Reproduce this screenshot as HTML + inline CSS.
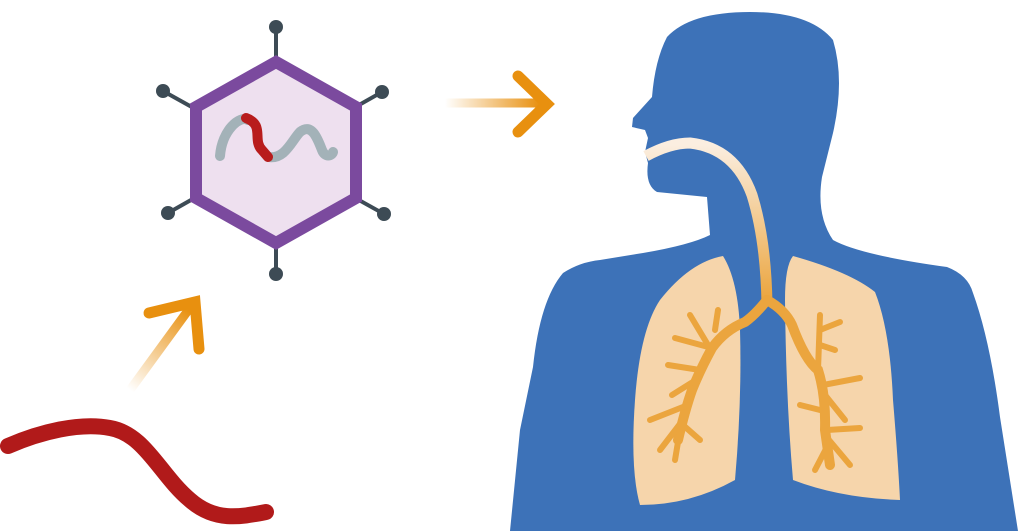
<!DOCTYPE html>
<html><head><meta charset="utf-8"><style>html,body{margin:0;padding:0;background:#fff}svg{display:block}</style></head>
<body>
<svg width="1020" height="531" viewBox="0 0 1020 531" xmlns="http://www.w3.org/2000/svg">
<defs>
<linearGradient id="ga" x1="445" y1="0" x2="540" y2="0" gradientUnits="userSpaceOnUse">
<stop offset="0" stop-color="#e8900f" stop-opacity="0"/><stop offset="1" stop-color="#e8900f"/></linearGradient>
<linearGradient id="gb" x1="130" y1="390" x2="190" y2="310" gradientUnits="userSpaceOnUse">
<stop offset="0" stop-color="#e8900f" stop-opacity="0"/><stop offset="1" stop-color="#e8900f"/></linearGradient>
<linearGradient id="gt" x1="0" y1="145" x2="0" y2="300" gradientUnits="userSpaceOnUse">
<stop offset="0" stop-color="#fbeee0"/><stop offset="1" stop-color="#eba53e"/></linearGradient>
</defs>
<g stroke="#3d4b55" stroke-width="4">
<line x1="276" y1="27" x2="276" y2="243"/><line x1="163" y1="91" x2="384" y2="214"/><line x1="382" y1="92" x2="168" y2="213"/><line x1="276" y1="243" x2="276" y2="274"/>
</g>
<g fill="#3d4b55"><circle cx="276" cy="27" r="7"/><circle cx="163" cy="91" r="7"/><circle cx="382" cy="92" r="7"/><circle cx="168" cy="213" r="7"/><circle cx="384" cy="214" r="7"/><circle cx="276" cy="274" r="7"/></g>
<polygon points="276,62 356,107 356,198 276,243 196,198 196,107" fill="#eee0ef" stroke="#7b4a9e" stroke-width="12"/>
<path d="M220,156 C222,130 240,115 248,120 M268,157 C285,160 292,140 300,132 C312,122 318,140 322,150 C325,158 332,156 333,152" fill="none" stroke="#a3b2b8" stroke-width="10" stroke-linecap="round"/>
<path d="M246,118 C265,125 252,140 262,150 L268,157" fill="none" stroke="#b81c1c" stroke-width="10" stroke-linecap="round"/>
<path d="M8,446 C40,432 80,422 110,428 C145,434 160,475 190,500 C215,522 240,517 266,512" fill="none" stroke="#b11a1a" stroke-width="16" stroke-linecap="round"/>
<line x1="130" y1="390" x2="192" y2="305" stroke="url(#gb)" stroke-width="9"/>
<polyline points="149,313 195,302 199,349" fill="none" stroke="#e8900f" stroke-width="11" stroke-linecap="round" stroke-linejoin="miter"/>
<line x1="445" y1="103" x2="546" y2="103" stroke="url(#ga)" stroke-width="9"/>
<polyline points="518,76 547,104 518,132" fill="none" stroke="#e8900f" stroke-width="11" stroke-linecap="round"/>
<path d="M510,531 L520,430 L533,367 Q540,300 563,273 Q580,262 600,260 L643,253 Q690,245 710,235 L707,197 L657,192 Q645,185 648,163 L645,152 L648,138 L645,130 L632,127 L633,118 L652,97 Q655,60 667,37 Q690,12 750,12 Q810,12 833,40 Q845,80 833,133 L822,177 Q816,215 833,240 Q860,255 947,267 Q968,275 973,293 Q990,340 1000,417 L1018,531 Z" fill="#3d72b8"/>
<path d="M723,256 Q690,262 660,300 Q640,330 635,400 Q630,470 640,505 Q690,505 735,480 Q742,400 740,330 Q738,280 723,256 Z" fill="#f6d5ab"/>
<path d="M793,256 Q850,272 875,292 Q890,330 893,400 Q898,460 900,500 Q840,498 793,480 Q786,400 785,300 Q785,266 793,256 Z" fill="#f6d5ab"/>
<path d="M646,156 Q670,143 690,143 Q735,148 752,195 Q766,240 767,305" fill="none" stroke="url(#gt)" stroke-width="11"/>
<g fill="none" stroke="#eba53e" stroke-linecap="round">
<path d="M767,300 Q755,315 745,322 Q725,330 712,348 Q700,370 692,390 Q685,410 678,440" stroke-width="10"/>
<path d="M767,300 Q785,310 792,325 Q805,360 818,370 Q826,395 825,430 L830,465" stroke-width="10"/>
<g stroke-width="6">
<path d="M712,348 L675,338"/><path d="M708,345 L690,315"/><path d="M715,330 L718,310"/>
<path d="M700,370 L668,365"/><path d="M696,380 L672,395"/><path d="M688,405 L650,420"/>
<path d="M683,420 L660,450"/><path d="M680,430 L675,460"/><path d="M683,425 L700,440"/>
<path d="M818,370 L820,315"/><path d="M820,330 L840,322"/><path d="M820,345 L835,350"/>
<path d="M823,385 L860,378"/><path d="M825,395 L845,420"/><path d="M820,410 L800,405"/>
<path d="M827,430 L860,428"/><path d="M828,445 L815,470"/><path d="M829,440 L850,465"/>
</g></g>
</svg>
</body></html>
